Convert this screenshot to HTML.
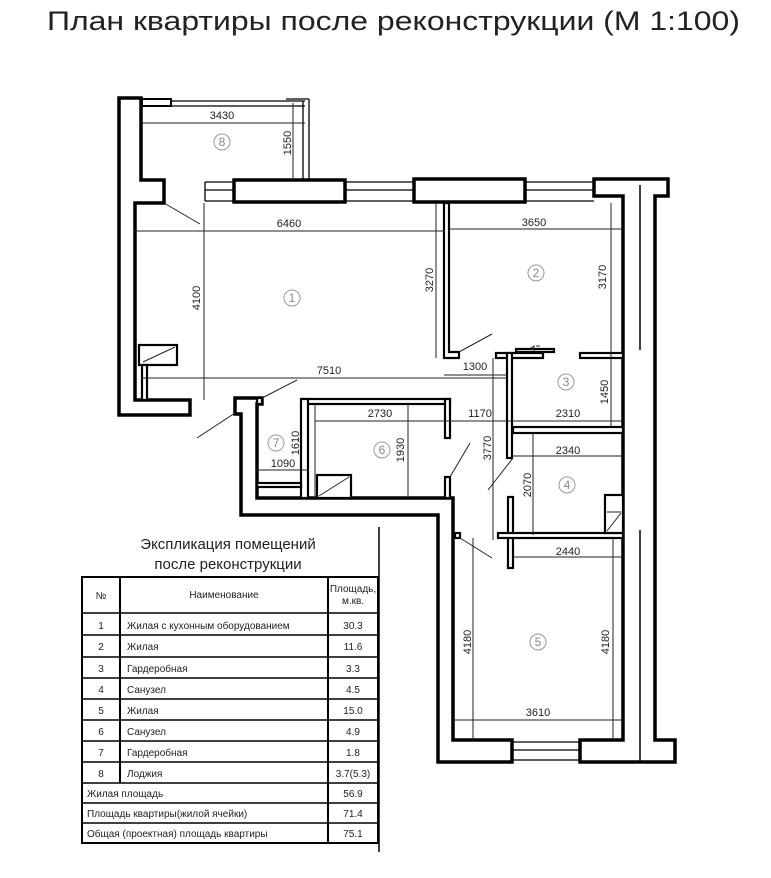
<!DOCTYPE html>
<html><head><meta charset="utf-8"><style>
html,body{margin:0;padding:0;background:#fff;}
svg{display:block;}
text{font-family:"Liberation Sans",sans-serif;fill:#222;}
</style></head><body>
<svg width="771" height="878" viewBox="0 0 771 878" xmlns="http://www.w3.org/2000/svg">
<text x="47" y="30" font-size="27" textLength="693" lengthAdjust="spacingAndGlyphs">План квартиры после реконструкции (М 1:100)</text>

<g fill="#fff" stroke="#000" stroke-width="3.5">
<polygon points="119,98 141,98 141,180 164,180 164,203 135,203 135,400 190,400 190,415 119,415"/>
<rect x="234" y="180" width="111" height="22"/>
<rect x="414" y="179" width="111" height="23"/>
<polygon points="594,179 668,179 668,196 655,196 655,740 675,740 675,762 580,762 580,740 623,740 623,196 594,196"/>
<polygon points="235,398 262,398 262,404 257,404 257,498 453,498 453,740 512,740 512,762 438,762 438,515 241,515 241,414 235,414"/>
</g>

<g fill="none" stroke="#000" stroke-width="1.3">
<path d="M205,182H234M205,190H234M205,201H234M205,182V201"/>
<path d="M345,182H414M345,190H414M345,201H414"/>
<path d="M525,182H594M525,190H594M525,201H594"/>
<path d="M512,742H580M512,750H580M512,760H580"/>
<path d="M141,101H305M141,106H305"/>
<path d="M303,101V180M309,99V180M286,99H309"/>
<rect x="142" y="99" width="29" height="7" fill="#fff" stroke-width="2"/>
<path d="M640,185V350M640,530V762" stroke-width="1.5"/>
</g>

<g fill="#fff" stroke="#000" stroke-width="2.2">
<polygon points="444,203 449,203 449,352 459,352 459,358 444,358"/>
<rect x="496" y="353" width="47" height="5"/>
<rect x="507" y="353" width="5" height="105"/>
<rect x="580" y="353" width="43" height="5"/>
<rect x="516" y="349" width="38" height="3"/>
<rect x="513" y="427" width="110" height="6"/>
<rect x="508" y="497" width="5" height="71"/>
<rect x="498" y="533" width="125" height="5"/>
<rect x="302" y="399" width="148" height="5"/>
<rect x="445" y="399" width="5" height="39"/>
<rect x="445" y="477" width="5" height="21"/>
<rect x="301" y="399" width="7" height="99"/>
<rect x="257" y="483" width="44" height="4"/>
<rect x="139" y="345" width="38" height="20"/>
<rect x="142" y="365" width="5" height="35"/>
<rect x="317" y="475" width="34" height="23"/>
<rect x="605" y="495" width="18" height="38"/>
<rect x="455" y="533" width="5" height="5"/>
<rect x="257" y="398" width="5" height="6"/>
</g>

<g fill="none" stroke="#222" stroke-width="1">
<path d="M315,404V498"/>
<path d="M143,362L175,347M319,496L349,477M607,531L621,513M607,512H621"/>
<path d="M164,203L200,224M459,352L492,334M297,380L262,398M235,413L197,438M450,477L470,443M513,458L488,490M460,538L492,558"/>
<path d="M142,123H305M293,103V178M133,231H445M449,229H623M204,203V400M436,203V358M611,203V427"/>
<path d="M142,378H507M444,375H507M257,470H308M408,404V498M315,421H623M493,358V540M513,456H623M533,433V535M513,557H623M473,538V740M613,538V740M453,720H623"/>
<path d="M536,346H540M531,348l3,-2v4z"/>
</g>

<g font-size="11" text-anchor="middle">
<text x="222" y="119">3430</text>
<text x="289" y="227">6460</text>
<text x="534" y="226">3650</text>
<text x="329" y="374">7510</text>
<text x="475" y="370">1300</text>
<text x="380" y="417">2730</text>
<text x="480" y="417">1170</text>
<text x="568" y="417">2310</text>
<text x="568" y="454">2340</text>
<text x="283" y="467">1090</text>
<text x="568" y="555">2440</text>
<text x="538" y="716">3610</text>
<text transform="translate(291,143) rotate(-90)">1550</text>
<text transform="translate(200,298) rotate(-90)">4100</text>
<text transform="translate(433,280) rotate(-90)">3270</text>
<text transform="translate(606,277) rotate(-90)">3170</text>
<text transform="translate(608,392) rotate(-90)">1450</text>
<text transform="translate(299,443) rotate(-90)">1610</text>
<text transform="translate(404,450) rotate(-90)">1930</text>
<text transform="translate(491,448) rotate(-90)">3770</text>
<text transform="translate(531,485) rotate(-90)">2070</text>
<text transform="translate(471,642) rotate(-90)">4180</text>
<text transform="translate(609,642) rotate(-90)">4180</text>
</g>

<g fill="none" stroke="#999" stroke-width="1">
<circle cx="222" cy="142" r="8"/><circle cx="292" cy="298" r="8"/><circle cx="536" cy="273" r="8"/>
<circle cx="566" cy="382" r="8"/><circle cx="567" cy="485" r="8"/><circle cx="538" cy="642" r="8"/>
<circle cx="382" cy="450" r="8"/><circle cx="276" cy="443" r="8"/>
</g>
<g font-size="12" text-anchor="middle">
<text x="222" y="146" style="fill:#888">8</text><text x="292" y="302" style="fill:#888">1</text>
<text x="536" y="277" style="fill:#888">2</text><text x="566" y="386" style="fill:#888">3</text>
<text x="567" y="489" style="fill:#888">4</text><text x="538" y="646" style="fill:#888">5</text>
<text x="382" y="454" style="fill:#888">6</text><text x="276" y="447" style="fill:#888">7</text>
</g>

<text x="228" y="549" font-size="15" text-anchor="middle">Экспликация помещений</text>
<text x="228" y="569" font-size="15" text-anchor="middle">после реконструкции</text>
<path d="M379,527V852" stroke="#000" stroke-width="1.5"/>
<g stroke="#000" fill="none">
<rect x="82" y="577" width="296" height="266" stroke-width="2"/>
<path d="M82,613H378M82,635H378M82,657H378M82,678H378M82,699H378M82,720H378M82,741H378M82,762H378M82,783H378M82,803H378M82,823H378" stroke-width="1.5"/>
<path d="M120,577V783M328,577V843" stroke-width="2"/>
</g>
<g font-size="10">
<text x="101" y="599" text-anchor="middle">№</text>
<text x="224" y="598" text-anchor="middle">Наименование</text>
<text x="353" y="592" text-anchor="middle">Площадь,</text>
<text x="353" y="604" text-anchor="middle">м.кв.</text>
<g text-anchor="middle">
<text x="101" y="629">1</text><text x="101" y="650">2</text><text x="101" y="672">3</text><text x="101" y="693">4</text>
<text x="101" y="714">5</text><text x="101" y="735">6</text><text x="101" y="756">7</text><text x="101" y="777">8</text>
<text x="353" y="629">30.3</text><text x="353" y="650">11.6</text><text x="353" y="672">3.3</text><text x="353" y="693">4.5</text>
<text x="353" y="714">15.0</text><text x="353" y="735">4.9</text><text x="353" y="756">1.8</text><text x="353" y="777">3.7(5.3)</text>
<text x="353" y="797">56.9</text><text x="353" y="817">71.4</text><text x="353" y="837">75.1</text>
</g>
<text x="127" y="629">Жилая с кухонным оборудованием</text>
<text x="127" y="650">Жилая</text>
<text x="127" y="672">Гардеробная</text>
<text x="127" y="693">Санузел</text>
<text x="127" y="714">Жилая</text>
<text x="127" y="735">Санузел</text>
<text x="127" y="756">Гардеробная</text>
<text x="127" y="777">Лоджия</text>
<text x="87" y="797">Жилая площадь</text>
<text x="87" y="817">Площадь квартиры(жилой ячейки)</text>
<text x="87" y="837">Общая (проектная) площадь квартиры</text>
</g>
</svg>
</body></html>
